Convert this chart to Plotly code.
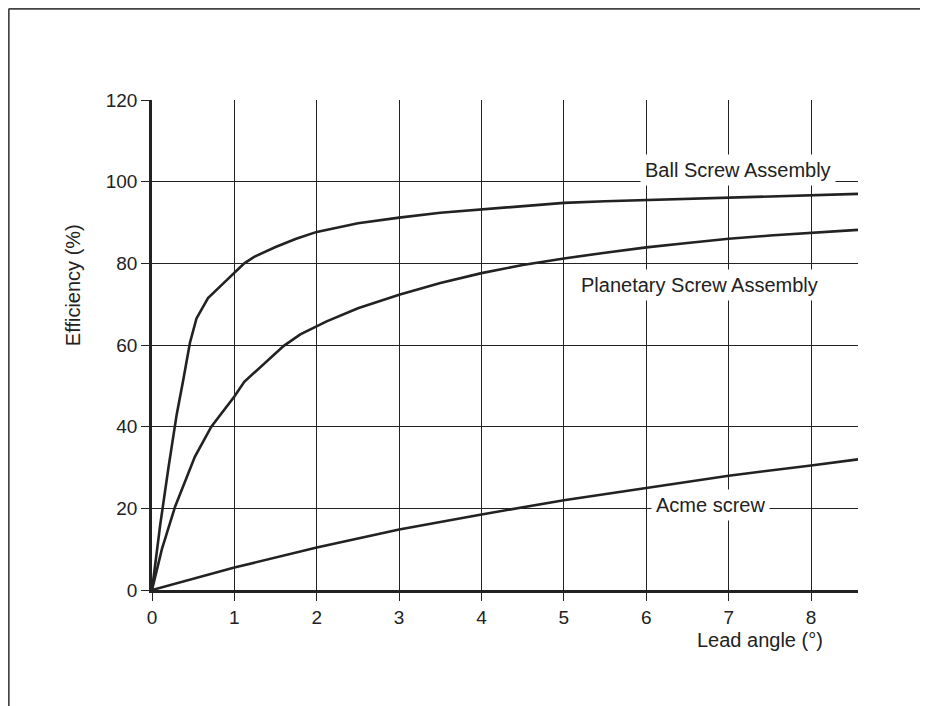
import plotly.graph_objects as go

# lead angle (deg) vs efficiency (%)
ball_x = [0, 0.1, 0.2, 0.3, 0.38, 0.46, 0.54, 0.68, 0.85, 1.0, 1.12, 1.24, 1.5, 1.75, 2.0, 2.5, 3.0, 3.5, 4.0, 4.5, 5.0, 5.5, 6.0, 6.5, 7.0, 7.5, 8.0, 8.57]
ball_y = [0, 16, 30, 43, 51.5, 60.5, 66.5, 71.5, 74.8, 77.6, 80, 81.6, 84, 86, 87.7, 89.8, 91.2, 92.4, 93.2, 94, 94.8, 95.2, 95.5, 95.8, 96, 96.3, 96.6, 97]

plan_x = [0, 0.12, 0.28, 0.52, 0.72, 1.0, 1.12, 1.36, 1.6, 1.8, 2.12, 2.5, 3.0, 3.5, 4.0, 4.5, 5.0, 5.5, 6.0, 6.5, 7.0, 7.5, 8.0, 8.57]
plan_y = [0, 10, 20.4, 32.6, 40, 47.4, 51, 55.3, 59.8, 62.6, 65.8, 69, 72.3, 75.2, 77.6, 79.6, 81.2, 82.6, 83.9, 85, 86, 86.8, 87.5, 88.2]

acme_x = [0, 1, 2, 3, 4, 5, 6, 7, 8, 8.57]
acme_y = [0, 5.5, 10.4, 14.8, 18.5, 22, 25, 28, 30.5, 32]

labels = ["Ball Screw Assembly", "Planetary Screw Assembly", "Acme screw"]
label_x = [7.11, 6.64, 6.78]
label_y = [102.9, 74.7, 20.8]

ink = "#222222"
font = "Liberation Sans, Arial, sans-serif"

fig = go.Figure()
for xs, ys in [(ball_x, ball_y), (plan_x, plan_y), (acme_x, acme_y)]:
    fig.add_trace(go.Scatter(x=xs, y=ys, mode="lines",
                             line=dict(color=ink, width=2.6), showlegend=False))

for t, lx, ly in zip(labels, label_x, label_y):
    fig.add_annotation(x=lx, y=ly, text=t, showarrow=False, bgcolor="white",
                       borderpad=4, font=dict(size=20, color=ink, family=font))

# axis titles placed like the original (x title sits right-aligned)
fig.add_annotation(xref="paper", yref="paper", x=0.861, y=-0.102, text="Lead angle (°)",
                   xanchor="center", yanchor="middle",
                   showarrow=False, font=dict(size=20, color=ink, family=font))
fig.add_annotation(xref="paper", yref="paper", x=-0.112, y=0.622, text="Efficiency (%)",
                   xanchor="center", yanchor="middle",
                   textangle=-90, showarrow=False, font=dict(size=20, color=ink, family=font))

fig.update_xaxes(range=[0, 8.57], tickmode="linear", tick0=0, dtick=1,
                 showgrid=True, gridcolor=ink, gridwidth=1,
                 showline=True, linecolor=ink, linewidth=2.5,
                 ticks="outside", ticklen=8, tickcolor=ink, tickwidth=1,
                 zeroline=False, fixedrange=True, tickfont=dict(size=19))
fig.update_yaxes(range=[0, 120], tickmode="linear", tick0=0, dtick=20,
                 showgrid=True, gridcolor=ink, gridwidth=1,
                 showline=True, linecolor=ink, linewidth=2.5,
                 ticks="outside", ticklen=8, tickcolor=ink, tickwidth=1,
                 zeroline=False, fixedrange=True, tickfont=dict(size=19))

# outer frame (top and left edges only)
fig.add_shape(type="line", xref="paper", yref="paper", x0=-0.203, x1=1.2,
              y0=1.186, y1=1.186, line=dict(color="#444", width=2))
fig.add_shape(type="line", xref="paper", yref="paper", x0=-0.203, x1=-0.203,
              y0=1.186, y1=-0.3, line=dict(color="#444", width=2))

fig.update_layout(width=928, height=706, plot_bgcolor="white", paper_bgcolor="white",
                  margin=dict(l=144, r=78, t=92, b=124),
                  font=dict(family=font, size=17, color=ink))

fig.write_html("out.html")
